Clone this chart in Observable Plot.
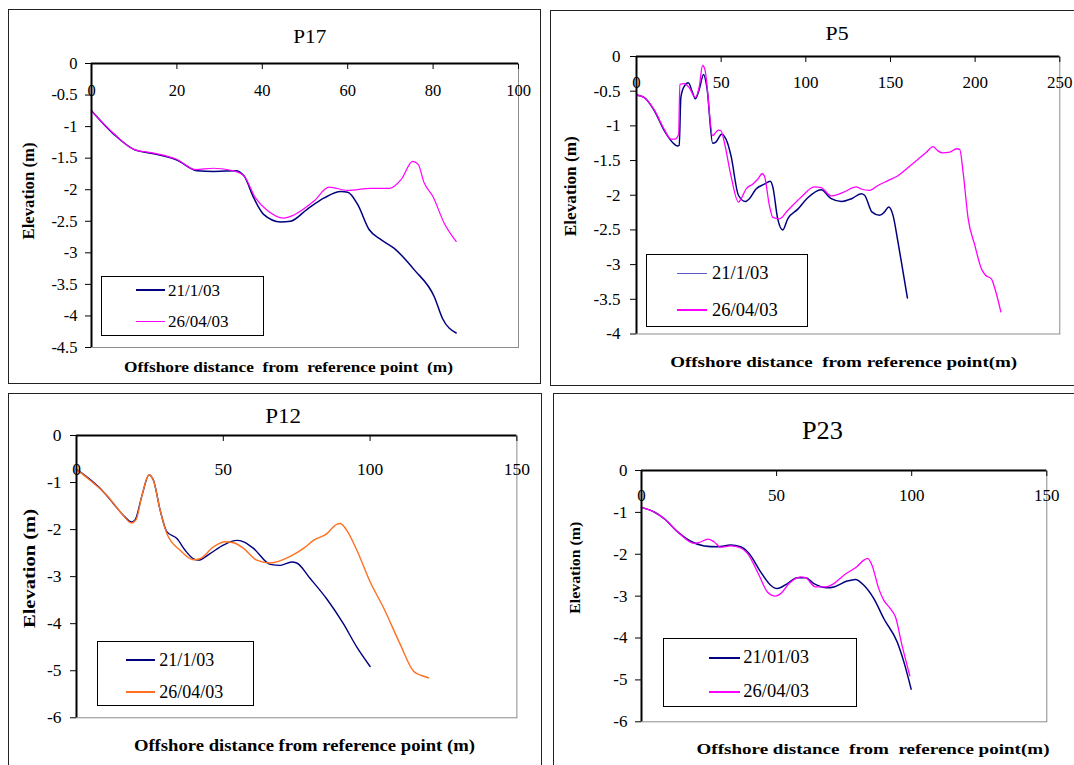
<!DOCTYPE html>
<html><head><meta charset="utf-8">
<script src="https://cdn.jsdelivr.net/npm/d3@7"></script>
<script src="https://cdn.jsdelivr.net/npm/@observablehq/plot@0.6"></script>
<style>
html,body{margin:0;padding:0;background:#fff;}
#page{position:relative;width:1074px;height:765px;overflow:hidden;font-family:"Liberation Serif","Times New Roman",serif;color:#000;}
.panel{position:absolute;border:1.5px solid #222;box-sizing:border-box;}
.abs{position:absolute;white-space:pre;line-height:1;font-family:"Liberation Serif","Times New Roman",serif;}
.legend{position:absolute;border:1.5px solid #000;background:#fff;box-sizing:border-box;}
.swatch{position:absolute;}
</style></head><body><div id="page"></div>
<script>
// ---------- DATA ----------
// P17
const p17Labels = ["21/1/03", "26/04/03"];
const p17XTicks = [0, 20, 40, 60, 80, 100];
const p17YTicks = [0, -0.5, -1, -1.5, -2, -2.5, -3, -3.5, -4, -4.5];
const p17DistA = [0,5.2,9.9,14.6,20,24.7,28.6,33.7,35.7,38,40.3,44.3,46.6,50.5,54.5,58.4,60,62.3,65,67.8,70.9,75.6,80.3,82.2,85.4];
const p17ElevA = [-0.75,-1.12,-1.36,-1.43,-1.53,-1.70,-1.71,-1.70,-1.78,-2.13,-2.39,-2.51,-2.50,-2.31,-2.13,-2.03,-2.04,-2.23,-2.63,-2.79,-2.93,-3.27,-3.70,-4.04,-4.27];
const p17DistB = [0,5.2,9.9,14.6,20,24.3,28.6,33.3,35.7,38.4,41.2,45,47.4,52.1,55.6,60,65.4,69.7,72.5,75.2,76.5,77.9,79.9,82.6,85.4];
const p17ElevB = [-0.75,-1.11,-1.36,-1.42,-1.52,-1.68,-1.66,-1.70,-1.78,-2.13,-2.33,-2.45,-2.40,-2.18,-1.96,-2.01,-1.98,-1.98,-1.84,-1.55,-1.60,-1.89,-2.10,-2.53,-2.82];

// P5
const p5Labels = ["21/1/03", "26/04/03"];
const p5XTicks = [0, 50, 100, 150, 200, 250];
const p5YTicks = [0, -0.5, -1, -1.5, -2, -2.5, -3, -3.5, -4];
const p5DistA = [0,4.5,10.5,16.4,21.3,24.3,25.2,26.2,28.2,30.6,33.1,34.7,37.1,39.6,41.6,45,47,50.3,53.8,55.8,60.2,64.3,66.7,70.6,75.5,79,80.5,83.4,86.4,89.3,95.3,101,109,115,121,127,132.7,134.7,139,143.6,146.5,149,151.5,154.4,157.4,160];
const p5ElevA = [-0.555,-0.59,-0.78,-1.07,-1.24,-1.29,-1.28,-0.59,-0.43,-0.38,-0.52,-0.61,-0.47,-0.26,-0.45,-1.25,-1.23,-1.12,-1.25,-1.43,-2.0,-2.09,-2.05,-1.91,-1.84,-1.80,-1.88,-2.34,-2.50,-2.34,-2.20,-2.04,-1.92,-2.05,-2.09,-2.05,-1.98,-2.0,-2.24,-2.29,-2.24,-2.17,-2.29,-2.67,-3.10,-3.48];
const p5DistB = [0,4.5,10.5,16.4,20.3,22.7,24.9,25.6,28.2,31.2,34.7,37.1,39,40.4,45,48.3,49.9,51.9,55.8,60.2,61.8,64.7,68.6,71.6,74.2,75.5,78.5,80.5,84.4,89.3,97.2,105,109,115,122,129.8,132.7,137.7,142.6,148.5,154.4,160.4,166.3,171.2,175.1,178,181,185,189,190.9,192.9,195.9,199.8,203.7,206,209.7,211.6,215.2];
const p5ElevB = [-0.555,-0.59,-0.77,-1.05,-1.19,-1.19,-1.12,-0.40,-0.39,-0.45,-0.59,-0.43,-0.13,-0.19,-1.14,-1.06,-1.07,-1.24,-1.72,-2.10,-2.05,-1.91,-1.84,-1.77,-1.69,-1.72,-2.15,-2.32,-2.34,-2.22,-2.03,-1.88,-1.89,-2.01,-1.96,-1.88,-1.91,-1.93,-1.86,-1.79,-1.72,-1.60,-1.48,-1.38,-1.30,-1.36,-1.39,-1.38,-1.33,-1.34,-1.67,-2.34,-2.72,-3.06,-3.15,-3.21,-3.34,-3.68];

// P12
const p12Labels = ["21/1/03", "26/04/03"];
const p12XTicks = [0, 50, 100, 150];
const p12YTicks = [0, -1, -2, -3, -4, -5, -6];
const p12DistA = [0,3.5,8.6,12.6,16,18.8,20,22.2,24.7,26.2,28.5,30.8,34.2,37,39.8,41.5,45.5,50,54.6,56.9,60.3,66,69.4,73.3,75,79.6,85.2,90.9,95.5,100];
const p12ElevA = [-0.72,-0.88,-1.16,-1.45,-1.70,-1.84,-1.79,-1.30,-0.84,-0.95,-1.59,-2.05,-2.19,-2.44,-2.62,-2.65,-2.51,-2.33,-2.23,-2.26,-2.40,-2.74,-2.76,-2.69,-2.71,-3.04,-3.47,-4.0,-4.50,-4.91];
const p12DistB = [0,4.6,10.3,14.9,18.8,20.3,22.2,24.7,26.2,28.5,30.8,35.3,39.8,42,46.6,50.6,53.5,56.9,61.4,66,72.8,77.3,80.7,85.2,88.6,89.8,92,95.5,100,104.5,110.2,114.8,117,119.9];
const p12ElevB = [-0.72,-0.95,-1.27,-1.62,-1.86,-1.79,-1.30,-0.84,-0.95,-1.59,-2.09,-2.44,-2.64,-2.62,-2.37,-2.26,-2.28,-2.40,-2.65,-2.71,-2.57,-2.40,-2.23,-2.09,-1.89,-1.87,-2.01,-2.44,-3.11,-3.65,-4.43,-5.01,-5.09,-5.15];

// P23
const p23Labels = ["21/01/03", "26/04/03"];
const p23XTicks = [0, 50, 100, 150];
const p23YTicks = [0, -1, -2, -3, -4, -5, -6];
const p23DistA = [0,4.7,8.4,13.3,18.2,23.2,28.1,33,36.7,39.8,44.1,47.8,50.2,54,57.6,60.7,63.8,68.7,71.2,76.1,79.2,82.3,86,89.7,94.6,97.1,99.8];
const p23ElevA = [-0.88,-0.99,-1.15,-1.46,-1.69,-1.80,-1.82,-1.78,-1.82,-1.98,-2.42,-2.74,-2.82,-2.70,-2.56,-2.56,-2.70,-2.80,-2.78,-2.64,-2.60,-2.74,-3.06,-3.54,-4.09,-4.57,-5.22];
const p23DistB = [0,4.7,8.4,13.3,19.5,21.3,24.6,26.8,29.3,33,36.7,39.2,43.5,46.6,49.6,51.5,54.6,58.9,60.7,64.4,68.1,71.2,74.9,79.8,82.3,83.7,85.3,87.8,89.7,92.1,94,96.4,99.3];
const p23ElevB = [-0.88,-0.99,-1.15,-1.46,-1.74,-1.72,-1.64,-1.70,-1.83,-1.80,-1.85,-1.98,-2.50,-2.90,-3.0,-2.94,-2.70,-2.54,-2.56,-2.78,-2.78,-2.70,-2.50,-2.29,-2.14,-2.10,-2.26,-2.82,-3.10,-3.30,-3.50,-4.17,-4.90];

// ---------- LAYOUT / STYLE ----------
const SERIF = '"Liberation Serif", "Times New Roman", serif';
const NAVY = "#000080", MAGENTA = "#ff00ff", ORANGE = "#ff7020";
const panels = [
  { title: "P17", box: [8, 9, 533, 375], plot: [91.3, 63.3, 518.3, 347.3], xMax: 100, yMin: -4.5,
    xTicks: p17XTicks, yTicks: p17YTicks, tickFont: 16.5, xLabelDy: 27.5, yGap: 14,
    series: [{dist: p17DistA, elev: p17ElevA, label: p17Labels[0], color: NAVY, width: 1.5, sw: 2},
             {dist: p17DistB, elev: p17ElevB, label: p17Labels[1], color: MAGENTA, width: 1.2, sw: 1}],
    titlePos: {cx: 310, cy: 36.7, size: 19, w: 33},
    yLab: {cx: 29.6, cy: 191.3, size: 16, w: 97},
    xLab: {text: "Offshore distance  from  reference point  (m)", cx: 289, cy: 366.7, size: 15.5, w: 329},
    legend: {box: [101, 276, 264, 336], line: [136, 165], textX: 168, rows: [290, 321.7], size: 17} },
  { title: "P5", box: [550, 10, 540, 376], plot: [635.7, 56, 1059, 333.5], xMax: 250, yMin: -4,
    xTicks: p5XTicks, yTicks: p5YTicks, tickFont: 17, xLabelDy: 25.7, yGap: 16,
    series: [{dist: p5DistA, elev: p5ElevA, label: p5Labels[0], color: NAVY, width: 1.5, sw: 1, swColor: "#5a5ac0"},
             {dist: p5DistB, elev: p5ElevB, label: p5Labels[1], color: MAGENTA, width: 1.3, sw: 2}],
    titlePos: {cx: 837, cy: 33, size: 19, w: 23},
    yLab: {cx: 571, cy: 186.7, size: 16.5, w: 100},
    xLab: {text: "Offshore distance  from reference point(m)", cx: 843.6, cy: 361.7, size: 15.5, w: 347},
    legend: {box: [646, 254, 808, 327], line: [677, 707], textX: 712, rows: [273.3, 310], size: 18.5} },
  { title: "P12", box: [8, 393, 534, 390], plot: [76.3, 434.7, 516.7, 717], xMax: 150, yMin: -6,
    xTicks: p12XTicks, yTicks: p12YTicks, tickFont: 17.5, xLabelDy: 33.6, yGap: 15,
    series: [{dist: p12DistA, elev: p12ElevA, label: p12Labels[0], color: NAVY, width: 1.4, sw: 2},
             {dist: p12DistB, elev: p12ElevB, label: p12Labels[1], color: ORANGE, width: 1.4, sw: 2}],
    titlePos: {cx: 283, cy: 416, size: 22, w: 36},
    yLab: {cx: 29.5, cy: 568.7, size: 17, w: 119},
    xLab: {text: "Offshore distance from reference point (m)", cx: 304, cy: 745, size: 17, w: 341},
    legend: {box: [97, 641, 254, 706], line: [126, 155], textX: 159.3, rows: [660, 691.7], size: 18} },
  { title: "P23", box: [553, 393, 540, 390], plot: [640.7, 469.7, 1046, 721], xMax: 150, yMin: -6,
    xTicks: p23XTicks, yTicks: p23YTicks, tickFont: 17, xLabelDy: 25.3, yGap: 14,
    series: [{dist: p23DistA, elev: p23ElevA, label: p23Labels[0], color: NAVY, width: 1.5, sw: 2},
             {dist: p23DistB, elev: p23ElevB, label: p23Labels[1], color: MAGENTA, width: 1.3, sw: 2}],
    titlePos: {cx: 822, cy: 430, size: 25, w: 41},
    yLab: {cx: 575.4, cy: 567.5, size: 15.5, w: 92},
    xLab: {text: "Offshore distance  from  reference point(m)", cx: 873, cy: 749, size: 15, w: 353},
    legend: {box: [663, 638, 857, 707], line: [709, 740], textX: 743.3, rows: [657.7, 691.7], size: 18.5} }
];

// ---------- RENDER ----------
const page = document.getElementById("page");

function placeText(text, o, opts = {}) {
  const el = document.createElement("div");
  el.className = "abs";
  el.textContent = text;
  el.style.fontSize = o.size + "px";
  if (opts.bold) el.style.fontWeight = "bold";
  page.appendChild(el);
  const r = el.getBoundingClientRect();
  const w = r.width, h = r.height;
  el.style.left = (o.cx - w / 2) + "px";
  el.style.top = (o.cy - h / 2) + "px";
  const s = o.w ? o.w / w : 1;
  el.style.transformOrigin = "50% 50%";
  el.style.transform = (opts.rotate ? "rotate(-90deg) " : "") + `scaleX(${s})`;
  return el;
}

for (const p of panels) {
  const box = document.createElement("div");
  box.className = "panel";
  Object.assign(box.style, {left: p.box[0] + "px", top: p.box[1] + "px", width: p.box[2] + "px", height: p.box[3] + "px"});
  page.appendChild(box);

  const [L, T, R, B] = p.plot;
  const mL = 70, mT = 45, mR = 12, mB = 12;
  const chart = Plot.plot({
    width: R - L + mL + mR,
    height: B - T + mT + mB,
    marginLeft: mL, marginTop: mT, marginRight: mR, marginBottom: mB,
    style: {fontFamily: SERIF, color: "#000", background: "transparent", overflow: "visible"},
    x: {domain: [0, p.xMax], axis: null},
    y: {domain: [p.yMin, 0], axis: null},
    marks: [
      Plot.frame({stroke: "#8c8c8c", strokeWidth: 1}),
      ...p.series.map(s => Plot.line(s.dist.map((d, i) => ({dist: d, elev: s.elev[i]})),
        {x: "dist", y: "elev", stroke: s.color, strokeWidth: s.width, curve: "monotone-x"})),
      Plot.ruleX([0], {stroke: "#000", strokeWidth: 2}),
      Plot.ruleY([0], {stroke: "#000", strokeWidth: 2}),
      Plot.axisY(p.yTicks, {anchor: "left", label: null, tickSize: 6, tickPadding: p.yGap - 6,
        tickFormat: d => String(d), fontSize: p.tickFont, fontFamily: SERIF}),
      Plot.axisX(p.xTicks, {anchor: "top", label: null, tickSize: -5, tickFormat: () => ""}),
      Plot.text(p.xTicks, {x: d => d, y: () => 0, dy: p.xLabelDy, text: d => String(d),
        fontSize: p.tickFont, fontFamily: SERIF})
    ]
  });
  chart.style.position = "absolute";
  chart.style.left = (L - mL) + "px";
  chart.style.top = (T - mT) + "px";
  page.appendChild(chart);

  placeText(p.title, p.titlePos);
  placeText("Elevation (m)", p.yLab, {bold: true, rotate: true});
  placeText(p.xLab.text, p.xLab, {bold: true});

  const lg = document.createElement("div");
  lg.className = "legend";
  const [x1, y1, x2, y2] = p.legend.box;
  Object.assign(lg.style, {left: x1 + "px", top: y1 + "px", width: (x2 - x1) + "px", height: (y2 - y1) + "px"});
  page.appendChild(lg);
  p.series.forEach((s, i) => {
    const cy = p.legend.rows[i];
    const sw = document.createElement("div");
    sw.className = "swatch";
    Object.assign(sw.style, {left: p.legend.line[0] + "px", top: Math.round(cy - s.sw / 2) + "px",
      width: (p.legend.line[1] - p.legend.line[0]) + "px", height: s.sw + "px", background: s.swColor || s.color});
    page.appendChild(sw);
    const t = document.createElement("div");
    t.className = "abs";
    t.textContent = s.label;
    t.style.fontSize = p.legend.size + "px";
    page.appendChild(t);
    const h = t.getBoundingClientRect().height;
    t.style.left = p.legend.textX + "px";
    t.style.top = (cy - h / 2) + "px";
  });
}
</script></body></html>
